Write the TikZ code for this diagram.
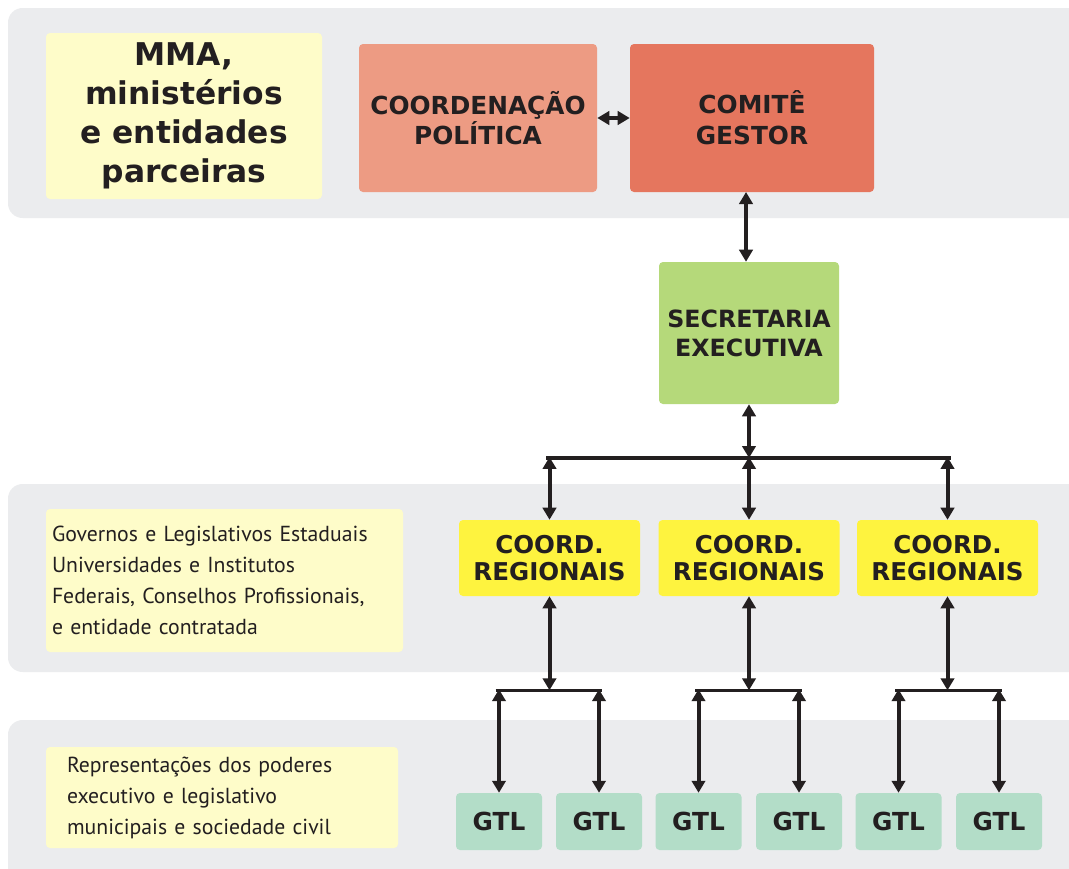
\documentclass[tikz,border=0pt]{standalone}
\usepackage{fontspec}
\setmainfont{DejaVu Sans}
\newfontfamily\bodyfont{PT Sans}
\usetikzlibrary{arrows.meta,calc}
\definecolor{bandgray}{HTML}{EBECEE}
\definecolor{paleyellow}{HTML}{FEFCC9}
\definecolor{salmonlight}{HTML}{ED9B83}
\definecolor{salmondark}{HTML}{E5765E}
\definecolor{leafgreen}{HTML}{B5D97A}
\definecolor{brightyellow}{HTML}{FEF33F}
\definecolor{mint}{HTML}{B3DDC8}
\definecolor{ink}{HTML}{231F20}
\tikzset{
  band/.style={fill=bandgray, rounded corners=11pt},
  boxbase/.style={rectangle, rounded corners=3pt, inner sep=0pt, align=center, text=ink},
  labelbox/.style={boxbase, fill=paleyellow},
  boldlabel/.style={font=\fontsize{18.6}{23}\selectfont\bfseries},
  bodytext/.style={font=\bodyfont\fontsize{16.3}{23.2}\selectfont, align=left},
  link/.style={draw=ink, line width=2.4pt},
  twoway/.style={draw=ink, line width=3pt, {Triangle[length=9pt,width=10pt]}-{Triangle[length=9pt,width=10pt]}},
}
\begin{document}
\begin{tikzpicture}[x=0.75pt,y=-0.75pt]
\useasboundingbox (0,0) rectangle (1069,868);
\fill[white] (0,0) rectangle (1069,868);
% bands
\fill[band] (8,8) rectangle (1100,218);
\fill[band] (8,484) rectangle (1100,672);
\fill[band] (8,720) rectangle (1100,900);

% top row
\node[labelbox, minimum width={276*0.75pt}, minimum height={166*0.75pt},
  font=\fontsize{23.5}{29.3}\selectfont\bfseries] (mma) at (184,116)
  {MMA,\\ministérios\\e entidades\\parceiras};
\node[boxbase, boldlabel, fill=salmonlight, minimum width={238*0.75pt}, minimum height={148*0.75pt}] (cp) at (478,118)
  {COORDENAÇÃO\\POLÍTICA};
\node[boxbase, boldlabel, fill=salmondark, minimum width={244*0.75pt}, minimum height={148*0.75pt}] (cg) at (752,118)
  {COMITÊ\\GESTOR};

% secretaria
\node[boxbase, fill=leafgreen, minimum width={180*0.75pt}, minimum height={142*0.75pt},
  font=\fontsize{17.8}{21.8}\selectfont\bfseries] (se) at (749,333)
  {SECRETARIA\\EXECUTIVA};

% middle row
\node[labelbox, bodytext, inner xsep={6*0.75pt}, text width={345*0.75pt}, minimum height={143*0.75pt}] (gov) at (224.5,580.5)
  {Governos e Legislativos Estaduais\\Universidades e Institutos\\Federais, Conselhos Profissionais,\\e entidade contratada};
\foreach \i/\cx in {1/549.5, 2/749, 3/947.5}{
  \node[boxbase, fill=brightyellow, minimum width={181*0.75pt}, minimum height={76*0.75pt},
    font=\fontsize{18.4}{20.3}\selectfont\bfseries] (cr\i) at (\cx,558) {COORD.\\REGIONAIS};
}

% bottom row
\node[labelbox, bodytext, inner xsep={21*0.75pt}, text width={310*0.75pt}, minimum height={101*0.75pt}] (rep) at (222,797.5)
  {Representações dos poderes\\executivo e legislativo\\municipais e sociedade civil};
\foreach \i/\cx in {1/499, 2/599, 3/698.5, 4/799, 5/898.5, 6/999}{
  \node[boxbase, boldlabel, fill=mint, minimum width={86*0.75pt}, minimum height={57*0.75pt}] (g\i) at (\cx,821.5) {GTL};
}

% connectors top
\draw[twoway] (cp.east) -- (cg.west);
\coordinate (cgout) at (746,192);
\draw[twoway] (cgout) -- (cgout |- se.north);

% junction under secretaria
\coordinate (j0) at (749,458);
\coordinate (jl) at (549.5,458);
\coordinate (jr) at (947.5,458);
\draw[link] ([xshift=-2.5pt]jl) -- ([xshift=2.5pt]jr);
\draw[twoway] (se.south) -- (j0);
\draw[twoway] ([yshift=0.8pt]j0) -- (cr2.north);
\draw[twoway] ([yshift=0.8pt]jl) -- (cr1.north);
\draw[twoway] ([yshift=0.8pt]jr) -- (cr3.north);

% junctions under regional coordinations
\foreach \c/\a/\b in {1/1/2, 2/3/4, 3/5/6}{
  \coordinate (k\c) at ($(cr\c.south)+(0,94)$);
  \coordinate (ka\c) at (g\a.north |- k\c);
  \coordinate (kb\c) at (g\b.north |- k\c);
  \draw[link] ([xshift=-2.5pt]ka\c) -- ([xshift=2.5pt]kb\c);
  \draw[twoway] (cr\c.south) -- (k\c);
  \draw[twoway] ([yshift=0.8pt]ka\c) -- (g\a.north);
  \draw[twoway] ([yshift=0.8pt]kb\c) -- (g\b.north);
}
\end{tikzpicture}
\end{document}
